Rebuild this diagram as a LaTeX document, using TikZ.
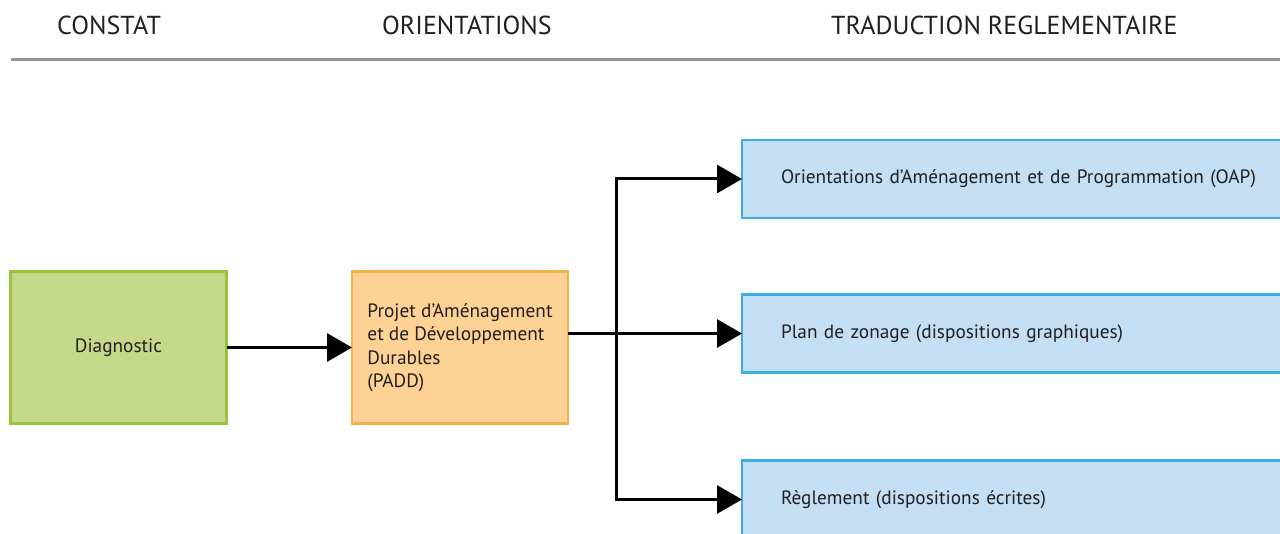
\documentclass[tikz,border=0pt]{standalone}
\usepackage{fontspec}
\setmainfont{PT Sans}
\usepackage{xcolor}
\usepackage{tikz}
\usetikzlibrary{arrows.meta, positioning, calc}
\definecolor{PLUGreen}{RGB}{196, 216, 138}
\definecolor{PLUGreenLine}{RGB}{155, 196, 60}
\definecolor{PLUOrange}{RGB}{253, 210, 148}
\definecolor{PLUOrangeLine}{RGB}{246, 178, 74}
\definecolor{PLUBlue}{RGB}{196, 223, 244}
\definecolor{PLUBlueLine}{RGB}{58, 174, 229}
\definecolor{PLURule}{RGB}{150, 150, 150}
\definecolor{PLUText}{RGB}{35, 31, 32}

\begin{document}
\begin{tikzpicture}[x=1pt,y=-1pt,
  heading/.style={anchor=base west, inner sep=0pt, text=PLUText,
    font=\fontsize{26}{30}\selectfont},
  stagebox/.style={line width=2.5pt, inner sep=0pt, outer sep=0pt, text=PLUText,
    minimum width=216pt, minimum height=152pt, font=\fontsize{19.3}{23.5}\selectfont},
  rulebox/.style={draw=PLUBlueLine, fill=PLUBlue, line width=2.5pt, outer sep=0pt,
    minimum width=600pt, minimum height=78pt, text width=522pt, inner xsep=39pt,
    align=left, text=PLUText, font=\fontsize{19.3}{23.5}\selectfont},
  conn/.style={line width=3pt, -{Triangle[length=25pt,width=28pt]}}]
  \path[use as bounding box] (0,0) rectangle (1280,534);
  \clip (0,0) rectangle (1280,534);

  % column titles
  \node[heading] (hconstat) at (57,35) {CONSTAT};
  \node[heading] (horient) at (382,35) {ORIENTATIONS};
  \node[heading] (htrad) at (831,35) {TRADUCTION REGLEMENTAIRE};
  \draw[PLURule, line width=3pt] (11,60) -- (1280,60);

  % constat and orientations
  \node[stagebox, draw=PLUGreenLine, fill=PLUGreen] (diag) at (118.5,347.5) {Diagnostic};
  \node[stagebox, draw=PLUOrangeLine, fill=PLUOrange, align=left]
    (padd) at (460,347.5) {Projet d’Aménagement\\et de Développement\\Durables\\(PADD)};

  % traduction reglementaire
  \node[rulebox] (oap) at (1042,179) {Orientations d’Aménagement et de Programmation (OAP)};
  \node[rulebox] (zonage) at (1042,333.5) {Plan de zonage (dispositions graphiques)};
  \node[rulebox] (reglt) at (1042,499.5) {Règlement (dispositions écrites)};

  % connectors
  \coordinate (split) at (616,333.5);
  \draw[conn] (diag) -- (padd);
  \draw[conn] (padd.east |- zonage.west) -- (zonage.west);
  \draw[conn] (split) |- (oap.west);
  \draw[conn] (split) |- (reglt.west);
\end{tikzpicture}
\end{document}
